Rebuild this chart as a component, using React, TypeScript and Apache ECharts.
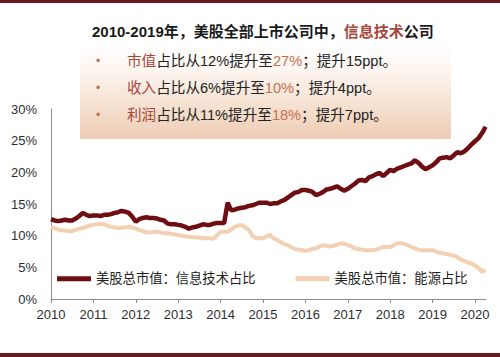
import React, { useEffect, useRef } from "react";
import * as echarts from "echarts";

const years = [2010, 2011, 2012, 2013, 2014, 2015, 2016, 2017, 2018, 2019, 2020];
const lastMonth2020 = 4;
const yTicks = [0, 5, 10, 15, 20, 25, 30];

const techShare = [
  12.6, 12.4, 12.3, 12.4, 12.5, 12.4, 12.4, 12.7, 13.1, 13.6, 13.3, 13.1,
  13.2, 13.2, 13.1, 13.3, 13.3, 13.4, 13.6, 13.7, 13.9, 13.8, 13.6, 13.0,
  12.2, 12.6, 12.8, 12.9, 12.8, 12.8, 12.7, 12.5, 12.4, 11.9, 11.8, 11.8,
  11.7, 11.6, 11.4, 11.1, 11.3, 11.4, 11.6, 11.8, 11.7, 11.7, 11.9, 12.0,
  12.0, 12.0, 15.2, 14.0, 14.1, 14.3, 14.4, 14.5, 14.7, 14.8, 15.0, 15.2,
  15.2, 15.2, 15.0, 15.1, 15.1, 15.4, 15.6, 16.0, 16.4, 16.8, 16.9, 17.2,
  17.2, 17.1, 16.9, 16.4, 16.6, 16.9, 17.3, 17.4, 17.6, 17.8, 17.4, 17.1,
  17.4, 17.8, 18.2, 18.7, 18.8, 18.6, 19.2, 19.4, 19.7, 19.9, 19.4, 19.9,
  20.4, 20.2, 20.6, 20.8, 21.0, 21.2, 21.4, 21.9, 21.5, 20.9, 20.5, 20.8,
  21.1, 21.6, 22.2, 22.3, 22.4, 22.2, 22.7, 23.2, 23.0, 23.3, 23.8, 24.4,
  24.9, 25.4, 26.2, 27.2,
];

const energyShare = [
  11.4, 11.2, 11.0, 10.8, 10.8, 10.7, 10.7, 10.9, 11.1, 11.2, 11.4, 11.6,
  11.7, 11.8, 11.9, 11.8, 11.6, 11.4, 11.3, 11.2, 11.3, 11.3, 11.4, 11.3,
  11.1, 10.9, 10.7, 10.5, 10.5, 10.6, 10.6, 10.5, 10.4, 10.4, 10.3, 10.2,
  10.1, 10.0, 9.9, 9.8, 9.8, 9.7, 9.7, 9.6, 9.6, 9.6, 9.5, 10.1,
  10.6, 10.6, 10.6, 11.0, 11.4, 11.6, 11.7, 11.3, 10.9, 10.0, 9.6, 9.6,
  9.6, 9.9, 10.1, 9.6, 9.3, 9.0, 8.7, 8.5, 8.2, 7.9, 7.8, 7.7,
  7.6, 7.7, 7.9, 8.0, 8.3, 8.5, 8.4, 8.3, 8.4, 8.6, 8.8, 8.7,
  8.5, 8.3, 8.0, 7.9, 7.8, 7.7, 7.7, 7.7, 7.8, 8.0, 8.2, 8.2,
  8.2, 8.5, 8.8, 8.8, 8.7, 8.5, 8.2, 8.0, 7.8, 7.7, 7.7, 7.7,
  7.7, 7.5, 7.3, 7.2, 7.1, 7.0, 6.8, 6.6, 6.2, 6.0, 5.8, 5.6,
  5.3, 4.9, 4.3, 4.6,
];

const seriesNames = ["美股总市值：信息技术占比", "美股总市值：能源占比"];

const months: string[] = [];
years.forEach((y) => {
  const n = y === 2020 ? lastMonth2020 : 12;
  for (let m = 1; m <= n; m++) months.push(`${y}-${String(m).padStart(2, "0")}`);
});

const DARK = "#6e0d12";
const PEACH = "#f4d0b2";
const RED_TXT = "#a8473b";
const ORANGE_TXT = "#c4714f";
const CJK = "'Liberation Sans', 'Noto Sans CJK SC', sans-serif";

export default function App() {
  const ref = useRef<HTMLDivElement>(null);
  useEffect(() => {
    document.body.style.margin = "0";
    const chart = echarts.init(ref.current!, null, { renderer: "svg" });
    const isYearStart = (i: number) => i % 12 === 0;
    const FS = 14.6;
    const bulletLine = (y: number, rich: string) => [
      {
        type: "text",
        left: 96,
        top: y - 8,
        z: 10,
        style: { text: "•", fill: "#b8704e", fontSize: 12, fontFamily: CJK },
      },
      {
        type: "text",
        left: 127,
        top: y - 9,
        z: 10,
        style: {
          text: rich,
          fontSize: FS,
          fontFamily: CJK,
          fill: "#222",
          rich: {
            r: { fill: RED_TXT, fontSize: FS, fontFamily: CJK },
            o: { fill: ORANGE_TXT, fontSize: FS, fontFamily: CJK },
            k: { fill: "#222", fontSize: FS, fontFamily: CJK },
          },
        },
      },
    ];
    chart.setOption({
      animation: false,
      backgroundColor: "#ffffff",
      grid: { left: 51, top: 109, width: 434.6, height: 190, containLabel: false },
      legend: {
        left: 52,
        top: 267,
        itemWidth: 34,
        itemHeight: 5,
        itemGap: 40,
        icon: "rect",
        textStyle: { fontSize: 13.3, color: "#222", fontFamily: CJK },
        data: seriesNames,
      },
      xAxis: {
        type: "category",
        data: months,
        boundaryGap: false,
        axisLine: { lineStyle: { color: "#8c8c8c", width: 1 } },
        axisTick: { interval: (i: number) => isYearStart(i), length: 4, lineStyle: { color: "#8c8c8c" } },
        axisLabel: {
          interval: (i: number) => isYearStart(i),
          formatter: (v: string) => v.slice(0, 4),
          fontSize: 13,
          color: "#2e2e2e",
          margin: 9,
          fontFamily: "'Liberation Sans', sans-serif",
        },
        splitLine: { show: false },
      },
      yAxis: {
        type: "value",
        min: yTicks[0],
        max: yTicks[yTicks.length - 1],
        interval: 5,
        axisLine: { show: true, lineStyle: { color: "#8c8c8c", width: 1 } },
        axisTick: { show: false },
        splitLine: { show: false },
        axisLabel: {
          formatter: "{value}%",
          fontSize: 13,
          color: "#2e2e2e",
          margin: 14,
          fontFamily: "'Liberation Sans', sans-serif",
        },
      },
      series: [
        {
          name: seriesNames[0],
          type: "line",
          data: techShare,
          showSymbol: false,
          symbol: "none",
          lineStyle: { color: DARK, width: 4.5 },
          itemStyle: { color: DARK },
          z: 3,
        },
        {
          name: seriesNames[1],
          type: "line",
          data: energyShare,
          showSymbol: false,
          symbol: "none",
          lineStyle: { color: PEACH, width: 4 },
          itemStyle: { color: PEACH },
          z: 2,
        },
      ],
      graphic: [
        { type: "rect", left: 0, top: 0, z: 20, shape: { width: 500, height: 3 }, style: { fill: "#6a1a1f" } },
        { type: "rect", left: 0, top: 353, z: 20, shape: { width: 500, height: 4 }, style: { fill: "#6a1a1f" } },
        {
          type: "rect",
          left: 80,
          top: 45,
          z: 5,
          shape: { width: 371, height: 94 },
          style: {
            fill: {
              type: "linear",
              x: 0,
              y: 0,
              x2: 0,
              y2: 1,
              colorStops: [
                { offset: 0, color: "#ffffff" },
                { offset: 0.25, color: "#fdf6f1" },
                { offset: 1, color: "#eecdb4" },
              ],
            },
          },
        },
        {
          type: "text",
          left: 92,
          top: 24,
          z: 10,
          style: {
            text: "{k|2010-2019年，美股全部上市公司中，}{r|信息技术}{k|公司}",
            fontSize: 15,
            fontWeight: "bold",
            fontFamily: CJK,
            rich: {
              k: { fill: "#1a1a1a", fontSize: 15, fontWeight: "bold", fontFamily: CJK },
              r: { fill: RED_TXT, fontSize: 15, fontWeight: "bold", fontFamily: CJK },
            },
          },
        },
        ...bulletLine(63, "{r|市值}{k|占比从12%提升至}{o|27%}{k|；提升15ppt。}"),
        ...bulletLine(90, "{r|收入}{k|占比从6%提升至}{o|10%}{k|；提升4ppt。}"),
        ...bulletLine(117, "{r|利润}{k|占比从11%提升至}{o|18%}{k|；提升7ppt。}"),
      ],
    });
    return () => chart.dispose();
  }, []);
  return <div ref={ref} style={{ width: 500, height: 357 }} />;
}
